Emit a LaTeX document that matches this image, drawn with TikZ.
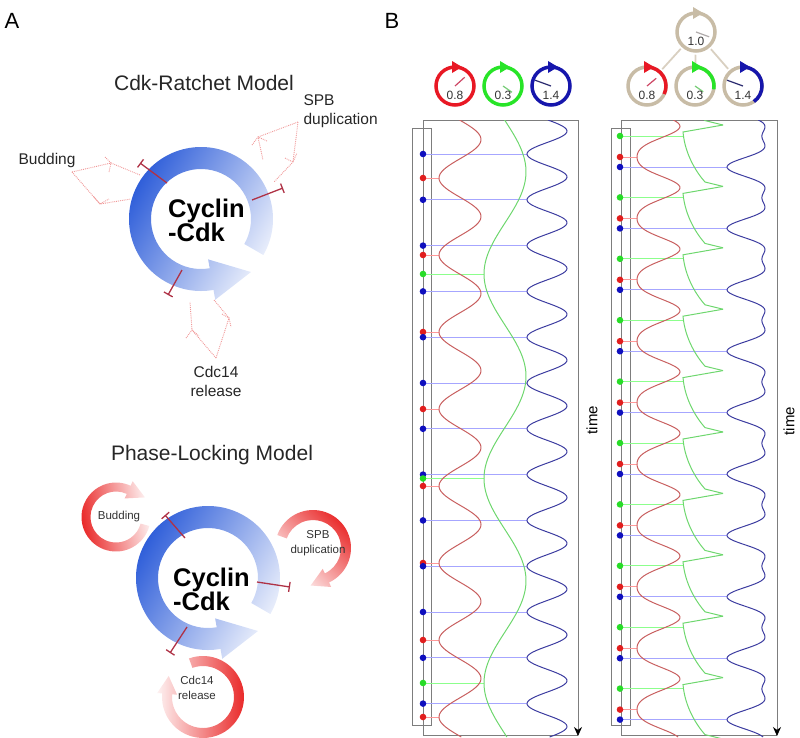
\documentclass[tikz,border=0pt]{standalone}
\usepackage{fontspec}
\setmainfont{Liberation Sans}
\usetikzlibrary{arrows.meta,calc}

\definecolor{cdkblue}{RGB}{35,85,215}
\definecolor{ringred}{RGB}{232,30,30}
\definecolor{inhred}{RGB}{175,50,70}
\definecolor{dotred}{RGB}{240,150,150}
\definecolor{tanring}{RGB}{200,188,166}
\definecolor{clockred}{RGB}{232,24,36}
\definecolor{clockgreen}{RGB}{40,228,40}
\definecolor{clockblue}{RGB}{22,22,172}
\definecolor{handred}{RGB}{205,70,100}
\definecolor{handgreen}{RGB}{120,205,120}
\definecolor{handblue}{RGB}{40,40,110}
\definecolor{handtan}{RGB}{175,170,170}
\definecolor{tracered}{RGB}{200,95,95}
\definecolor{tracegreen}{RGB}{110,215,110}
\definecolor{traceblue}{RGB}{60,60,160}
\definecolor{markred}{RGB}{225,30,30}
\definecolor{markgreen}{RGB}{40,220,40}
\definecolor{markblue}{RGB}{15,15,190}
\definecolor{boxgray}{RGB}{125,125,125}

\begin{document}
\begin{tikzpicture}[x=1pt,y=-1pt]

\tikzset{panel/.style={font=\fontsize{22}{26}\selectfont},
title/.style={font=\fontsize{21}{25}\selectfont,text=black!85},
event/.style={font=\fontsize{15.5}{19}\selectfont,text=black!85},
smallevent/.style={font=\fontsize{11.5}{14.5}\selectfont,text=black!80,align=center},
cyclin/.style={font=\fontsize{25.5}{24}\selectfont\bfseries,align=left,anchor=west,inner sep=0pt},
cdkring/.style={top color=cdkblue,bottom color=cdkblue!5,shading angle=60},
redring/.style={top color=ringred,bottom color=ringred!6},
inhib/.style={-{Bar[width=10pt,line width=1.3pt]},line width=1.3pt,draw=inhred},
feed/.style={densely dotted,line width=0.9pt,draw=dotred},
clockring/.style={circle,minimum size=38pt,inner sep=0pt,line width=3.5pt},
hand/.style={line width=1.2pt},
numtext/.style={font=\fontsize{12}{14}\selectfont,text=black!80,inner sep=0pt},
treeline/.style={draw=tanring!70,line width=1.8pt,shorten >=2pt,shorten <=2pt},
boxline/.style={draw=boxgray,line width=0.8pt},
timeaxis/.style={draw=boxgray,line width=0.8pt,-{Stealth[length=9pt,width=8pt,black]}},
timetext/.style={rotate=90,font=\fontsize{15}{18}\selectfont},
hlred/.style={draw=red!40,line width=0.7pt},
hlgreen/.style={draw=green!45,line width=0.7pt},
hlblue/.style={draw=blue!35,line width=0.7pt},
tracer/.style={draw=tracered,line width=1pt},
traceg/.style={draw=tracegreen,line width=1pt},
traceb/.style={draw=traceblue,line width=1pt}}

\useasboundingbox (0,0) rectangle (800,737);

% Panel letters
\node (labA) [panel] at (12,21) {A};
\node (labB) [panel] at (392,21) {B};

% Cyclin-Cdk rings
\foreach \cx/\cy in {201/219,208/578}{
  \begin{scope}[shift={(\cx,\cy)}]
    \shade[cdkring] (30:72) arc[start angle=30,end angle=-280,radius=72] -- (80:82) -- (50,53) -- (80:41) -- (80:50) arc[start angle=-280,end angle=30,radius=50] -- cycle;
  \end{scope}
}

% Cdk-Ratchet model
\node (ratchet) [title] at (204,83) {Cdk-Ratchet Model};
\node (cdkA) [cyclin] at (168,220) {Cyclin\\-Cdk};

\coordinate (budtip) at (72,172);
\draw[feed] (budtip) -- (111,163) -- (140,175);
\draw[feed] (budtip) -- (100,204) -- (131,199);
\draw[feed] (105,157) -- (111,163) -- (109,172);
\draw[feed] (94,197) -- (100,204) -- (109,199);
\coordinate (spbtip) at (298,122);
\draw[feed] (spbtip) -- (258,137) -- (263,160);
\draw[feed] (spbtip) -- (293,162) -- (274,182);
\draw[feed] (252,145) -- (258,137) -- (267,141);
\draw[feed] (285,158) -- (293,162) -- (297,153);
\coordinate (cdctip) at (216,358);
\draw[feed] (cdctip) -- (192,330) -- (190,302);
\draw[feed] (cdctip) -- (229,318) -- (214,300);
\draw[feed] (186,338) -- (192,330) -- (199,336);
\draw[feed] (222,314) -- (229,318) -- (231,327);

\coordinate (ta1) at (167,183); \coordinate (tb1) at (140,163);
\coordinate (ta2) at (252,200); \coordinate (tb2) at (283,188);
\coordinate (ta3) at (182,270); \coordinate (tb3) at (168,295);
\foreach \i in {1,2,3} \draw[inhib] (ta\i) -- (tb\i);

\node (budA) [event] at (47,160) {Budding};
\node (spbA) [event,align=left,anchor=west] at (300,111) {SPB\\duplication};
\node (cdcA) [event,align=center] at (216,381) {Cdc14\\release};

% Phase-Locking model
\node (phase) [title] at (212,455) {Phase-Locking Model};
\node (cdkB) [cyclin] at (173,589) {Cyclin\\-Cdk};

\foreach \cx/\cy/\ri/\ro/\a/\b/\sh in {116/517/25.5/34.5/15/295/100,313/548/28/38/200/425/-45,203/697/31/41/-110/185/-90}{
  \begin{scope}[shift={(\cx,\cy)}]
    \pgfmathsetmacro\rmid{(\ri+\ro)/2}
    \pgfmathsetmacro\rhi{\ro+5}
    \pgfmathsetmacro\rlo{\ri-5}
    \pgfmathsetmacro\bt{\b+90}
    \shade[redring,shading angle=\sh] (\a:\ro) arc[start angle=\a,end angle=\b,radius=\ro] -- (\b:\rhi) -- ($(\b:\rmid)+(\bt:18)$) -- (\b:\rlo) -- (\b:\ri) arc[start angle=\b,end angle=\a,radius=\ri] -- cycle;
  \end{scope}
}

\coordinate (ba1) at (185,538); \coordinate (bb1) at (165,515);
\coordinate (ba2) at (257,582); \coordinate (bb2) at (290,587);
\coordinate (ba3) at (187,627); \coordinate (bb3) at (170,653);
\foreach \i in {1,2,3} \draw[inhib] (ba\i) -- (bb\i);

\node (budB) [smallevent] at (119,517) {Budding};
\node (spbB) [smallevent] at (318,543) {SPB\\duplication};
\node (cdcB) [smallevent] at (197,688) {Cdc14\\release};

% Independent clocks
\node (l08) [clockring,draw=clockred] at (455,86) {};
\node (l03) [clockring,draw=clockgreen] at (503,86) {};
\node (l14) [clockring,draw=clockblue] at (551,86) {};
\foreach \n/\col/\hc/\ang/\len/\val in {l08/clockred/handred/-42/13/0.8,l03/clockgreen/handgreen/35/11/0.3,l14/clockblue/handblue/200/17/1.4}{
  \fill[\col] (\n.center) ++(-3,-25) -- ++(10,6) -- ++(-10,6) -- cycle;
  \draw[hand,draw=\hc] (\n.center) -- ++(\ang:\len);
  \node (\n-num) [numtext] at ([yshift=-9pt]\n.center) {\val};
}

% Coupled clocks
\node (t10) [clockring,draw=tanring] at (696,32) {};
\node (r08) [clockring,draw=tanring] at (647,86) {};
\node (r03) [clockring,draw=tanring] at (695,86) {};
\node (r14) [clockring,draw=tanring] at (743,86) {};
\foreach \n in {r08,r03,r14} \draw[treeline] (t10) -- (\n);
\foreach \n/\col/\e in {r08/clockred/25,r03/clockgreen/10,r14/clockblue/55}
  \draw[line width=3.5pt,draw=\col] (\n.center) ++(-90:19) arc[start angle=-90,end angle=\e,radius=19];
\foreach \n/\col/\hc/\ang/\len/\val in {t10/tanring/handtan/20/14/1.0,r08/clockred/handred/-40/12/0.8,r03/clockgreen/handgreen/35/10/0.3,r14/clockblue/handblue/200/17/1.4}{
  \fill[\col] (\n.center) ++(-3,-25) -- ++(10,6) -- ++(-10,6) -- cycle;
  \draw[hand,draw=\hc] (\n.center) -- ++(\ang:\len);
  \node (\n-num) [numtext] at ([yshift=-9pt]\n.center) {\val};
}

% Time boxes
\draw[boxline] (412,128) rectangle (431,725);
\draw[boxline] (578,735) -- (423,735) -- (423,120) -- (578,120);
\draw[timeaxis] (578,120) -- (578,736);
\node (timeL) [timetext] at (592,420) {time};
\draw[boxline] (611,128) rectangle (630,725);
\draw[boxline] (777,735) -- (621,735) -- (621,120) -- (777,120);
\draw[timeaxis] (777,120) -- (777,736);
\node (timeR) [timetext] at (789,421) {time};

% Event lines (independent)
\foreach \k in {0,...,7}{\pgfmathsetmacro\yy{178+77*\k} \draw[hlred] (423,\yy) -- (439,\yy);}
\foreach \k in {0,...,12}{\pgfmathsetmacro\yy{154+45.8*\k} \draw[hlblue] (423,\yy) -- (527,\yy);}
\foreach \k in {0,...,2}{\pgfmathsetmacro\yy{274+204.5*\k} \draw[hlgreen] (423,\yy) -- (484,\yy);}
% Event lines (coupled)
\foreach \k in {0,...,9}{\pgfmathsetmacro\yy{157+61.4*\k} \draw[hlred] (621,\yy) -- (637,\yy);}
\foreach \k in {0,...,9}{\pgfmathsetmacro\yy{167+61.4*\k} \draw[hlblue] (621,\yy) -- (727,\yy);}
\foreach \k in {0,...,9}{\pgfmathsetmacro\yy{136+61.4*\k} \draw[hlgreen] (621,\yy) -- (684,\yy);}

% Traces
\begin{scope}
  \clip (400,120) rectangle (800,737);
  \draw[tracer] plot[variable=\t,domain=120:737,samples=300] ({460-21*cos((\t-178)/77*360)},\t);
  \draw[traceg] plot[variable=\t,domain=120:737,samples=200] ({505-21*cos((\t-274)/204.5*360)},\t);
  \draw[traceb] plot[variable=\t,domain=120:737,samples=400] ({547-20*cos((\t-154)/45.8*360)},\t);
  \draw[tracer] plot[variable=\t,domain=120:737,samples=400] ({637+21.5*(0.85-cos((\t-157)/61.4*360)+0.15*cos((\t-157)/61.4*720))},\t);
  \draw[traceb] plot[variable=\t,domain=120:737,samples=400] ({727+17.45*(1.45-cos((\t-167)/61.4*360)-0.45*cos((\t-167)/61.4*720))},\t);
  \foreach \k in {-1,...,9}{
    \pgfmathsetmacro\s{125+61.4*\k}
    \draw[traceg] (723,\s) -- (683,\s+7) .. controls (685,\s+30) and (697,\s+48) .. (705,\s+57) -- (723,\s+61.4);
  }
\end{scope}

% Event dots
\foreach \k in {0,...,7}{\pgfmathsetmacro\yy{178+77*\k} \fill[markred] (423,\yy) circle[radius=3.3pt];}
\foreach \k in {0,...,12}{\pgfmathsetmacro\yy{154+45.8*\k} \fill[markblue] (423,\yy) circle[radius=3.3pt];}
\foreach \k in {0,...,2}{\pgfmathsetmacro\yy{274+204.5*\k} \fill[markgreen] (423,\yy) circle[radius=3.3pt];}
\foreach \k in {0,...,9}{\pgfmathsetmacro\yy{157+61.4*\k} \fill[markred] (620,\yy) circle[radius=3.3pt];}
\foreach \k in {0,...,9}{\pgfmathsetmacro\yy{167+61.4*\k} \fill[markblue] (620,\yy) circle[radius=3.3pt];}
\foreach \k in {0,...,9}{\pgfmathsetmacro\yy{136+61.4*\k} \fill[markgreen] (620,\yy) circle[radius=3.3pt];}

\end{tikzpicture}
\end{document}
